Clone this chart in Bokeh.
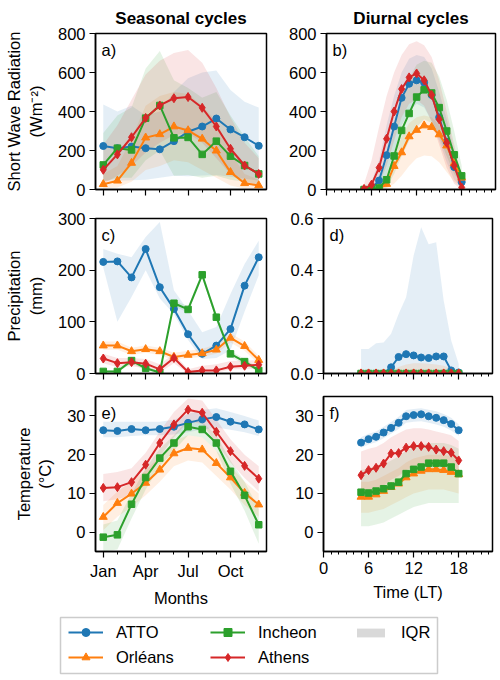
from bokeh.plotting import figure
from bokeh.layouts import column, row
from bokeh.models import Range1d, FixedTicker, Label, Legend, LegendItem, PrintfTickFormatter
from bokeh.embed import file_html
from bokeh.resources import INLINE

FONT = "Liberation Sans"
FS = "16.5px"

# ---------------- data ----------------
sites = ["ATTO", "Orléans", "Incheon", "Athens"]
colors = ["#1f77b4", "#ff7f0e", "#2ca02c", "#d62728"]
markers = ["circle", "triangle", "square", "diamond"]
marker_sizes = [7, 8, 6.5, 9]

months = [1, 2, 3, 4, 5, 6, 7, 8, 9, 10, 11, 12]
month_ticks = [1, 4, 7, 10]
month_labels = ["Jan", "Apr", "Jul", "Oct"]
hours = [5, 6, 7, 8, 9, 10, 11, 12, 13, 14, 15, 16, 17, 18]
hour_ticks = [0, 6, 12, 18]
hour_minor = list(range(0, 23))

# Short wave radiation, seasonal (median, q1, q3)
sw_s_atto = [223, 212, 220, 212, 206, 248, 296, 323, 364, 308, 268, 224]
sw_s_atto_q1 = [46, 45, 48, 50, 60, 70, 68, 72, 75, 65, 55, 46]
sw_s_atto_q3 = [436, 400, 430, 380, 400, 500, 570, 600, 610, 510, 450, 420]
sw_s_orl = [27, 45, 136, 266, 283, 323, 303, 260, 199, 89, 32, 21]
sw_s_orl_q1 = [5, 10, 40, 100, 120, 150, 140, 100, 60, 20, 5, 3]
sw_s_orl_q3 = [80, 120, 260, 430, 480, 500, 490, 430, 350, 190, 80, 50]
sw_s_inch = [126, 212, 203, 366, 431, 265, 267, 180, 248, 171, 123, 80]
sw_s_inch_q1 = [40, 60, 60, 150, 200, 70, 75, 60, 70, 50, 40, 25]
sw_s_inch_q3 = [290, 380, 420, 620, 710, 560, 520, 470, 500, 380, 270, 170]
sw_s_ath = [101, 180, 268, 367, 431, 468, 474, 419, 323, 209, 123, 80]
sw_s_ath_q1 = [30, 70, 120, 190, 240, 280, 290, 240, 160, 80, 30, 15]
sw_s_ath_q3 = [230, 330, 460, 590, 660, 700, 715, 650, 520, 370, 240, 160]

# Short wave radiation, diurnal
sw_d_atto = [0, 5, 46, 176, 323, 470, 542, 560, 548, 485, 370, 245, 115, 38]
sw_d_atto_q1 = [0, 0, 10, 80, 190, 330, 400, 440, 420, 350, 250, 140, 50, 15]
sw_d_atto_q3 = [0, 40, 150, 330, 480, 600, 670, 690, 680, 620, 500, 360, 200, 60]
sw_d_orl = [0, 0, 3, 28, 120, 190, 272, 305, 328, 320, 282, 225, 135, 60]
sw_d_orl_q1 = [0, 0, 0, 5, 30, 70, 120, 160, 175, 170, 140, 90, 40, 10]
sw_d_orl_q3 = [0, 0, 10, 80, 180, 270, 340, 370, 380, 370, 330, 270, 170, 80]
sw_d_inch = [0, 0, 8, 50, 172, 303, 390, 474, 511, 495, 420, 300, 178, 70]
sw_d_inch_q1 = [0, 0, 0, 10, 80, 170, 250, 320, 360, 340, 270, 170, 80, 30]
sw_d_inch_q3 = [0, 5, 40, 150, 300, 450, 570, 640, 660, 650, 580, 460, 300, 120]
sw_d_ath = [3, 25, 112, 260, 400, 515, 575, 595, 560, 485, 360, 240, 123, 10]
sw_d_ath_q1 = [0, 5, 30, 120, 250, 370, 440, 460, 430, 350, 230, 110, 30, 0]
sw_d_ath_q3 = [30, 150, 320, 480, 600, 690, 745, 760, 740, 680, 560, 400, 230, 60]

# Precipitation, seasonal
pr_s_atto = [216, 217, 186, 241, 167, 125, 76, 38, 54, 86, 170, 225]
pr_s_atto_q1 = [205, 100, 148, 200, 145, 115, 65, 28, 30, 45, 120, 190]
pr_s_atto_q3 = [241, 232, 225, 264, 293, 161, 122, 80, 90, 154, 212, 257]
pr_s_orl = [54, 54, 43, 47, 43, 32, 36, 39, 46, 69, 53, 26]
pr_s_orl_q1 = [46, 46, 36, 40, 36, 26, 30, 32, 38, 60, 44, 18]
pr_s_orl_q3 = [62, 62, 50, 54, 50, 40, 44, 48, 56, 78, 62, 34]
pr_s_inch = [4, 4, 25, 10, 2, 136, 124, 191, 109, 38, 23, 6]
pr_s_inch_q1 = [2, 2, 20, 6, 0, 130, 118, 185, 103, 32, 18, 3]
pr_s_inch_q3 = [7, 7, 30, 14, 5, 142, 130, 197, 115, 44, 28, 10]
pr_s_ath = [29, 20, 22, 19, 8, 30, 3, 6, 6, 13, 15, 17]
pr_s_ath_q1 = [20, 12, 14, 10, 2, 20, 0, 1, 1, 8, 8, 10]
pr_s_ath_q3 = [38, 30, 30, 28, 18, 38, 8, 15, 18, 24, 25, 26]

# Precipitation, diurnal
pr_d_atto = [0, 0, 0, 0, 0.024, 0.064, 0.075, 0.07, 0.062, 0.06, 0.066, 0.066, 0.012, 0.004]
pr_d_atto_q1 = [0, 0, 0, 0, 0, 0, 0, 0, 0, 0, 0, 0, 0, 0]
pr_d_atto_q3 = [0.095, 0.095, 0.117, 0.12, 0.154, 0.23, 0.295, 0.457, 0.566, 0.5, 0.508, 0.283, 0.128, 0.037]
pr_d_orl = [0, 0, 0, 0, 0, 0, 0, 0, 0, 0, 0, 0, 0, 0]
pr_d_orl_q1 = [0, 0, 0, 0, 0, 0, 0, 0, 0, 0, 0, 0, 0, 0]
pr_d_orl_q3 = [0, 0, 0, 0, 0.01, 0.025, 0.035, 0.04, 0.04, 0.038, 0.035, 0.03, 0.02, 0.01]
pr_d_inch = [0, 0, 0, 0, 0, 0, 0, 0, 0, 0, 0, 0, 0, 0]
pr_d_inch_q1 = [0, 0, 0, 0, 0, 0, 0, 0, 0, 0, 0, 0, 0, 0]
pr_d_inch_q3 = [0, 0, 0, 0, 0, 0.005, 0.01, 0.01, 0.012, 0.01, 0.008, 0.005, 0.002, 0]
pr_d_ath = [0, 0, 0, 0, 0, 0, 0, 0, 0, 0, 0, 0, 0, 0]
pr_d_ath_q1 = [0, 0, 0, 0, 0, 0, 0, 0, 0, 0, 0, 0, 0, 0]
pr_d_ath_q3 = [0, 0, 0, 0, 0, 0.005, 0.01, 0.015, 0.015, 0.01, 0.01, 0.008, 0.005, 0]

# Temperature, seasonal
t_s_atto = [26.3, 26.1, 26.6, 26.3, 26.6, 27.2, 28.2, 29.1, 29.7, 28.5, 27.8, 26.5]
t_s_atto_q1 = [24.5, 24.5, 24.8, 25.0, 25.0, 25.2, 25.8, 26.5, 27.0, 26.4, 25.8, 24.8]
t_s_atto_q3 = [28.5, 28.5, 28.5, 28.5, 28.5, 29.0, 30.5, 31.5, 32.0, 31.0, 30.0, 28.8]
t_s_orl = [3.9, 7.5, 9.9, 12.7, 16.1, 20.3, 21.7, 21.3, 17.8, 14.1, 10.1, 7.1]
t_s_orl_q1 = [0.5, 4.0, 6.5, 9.5, 13.0, 17.0, 18.5, 18.0, 14.5, 11.0, 7.0, 4.0]
t_s_orl_q3 = [7.0, 10.5, 13.0, 16.0, 19.5, 23.5, 25.0, 24.5, 21.0, 17.0, 13.0, 10.0]
t_s_inch = [-1.3, -0.7, 7.2, 14.1, 19.1, 23.0, 27.2, 26.5, 23.0, 15.7, 9.5, 1.9]
t_s_inch_q1 = [-5.0, -4.5, 3.5, 11.0, 17.0, 21.0, 25.0, 24.5, 21.0, 12.5, 5.5, -3.0]
t_s_inch_q3 = [2.0, 3.0, 10.0, 16.5, 21.5, 25.0, 29.0, 28.5, 25.0, 18.5, 13.0, 6.0]
t_s_ath = [11.4, 11.6, 12.9, 17.4, 23.0, 27.8, 31.6, 30.8, 25.9, 20.9, 17.1, 13.8]
t_s_ath_q1 = [8.0, 8.5, 9.5, 14.0, 19.5, 24.5, 28.5, 28.0, 23.0, 18.0, 14.0, 10.5]
t_s_ath_q3 = [15.0, 15.5, 16.5, 20.5, 26.0, 31.0, 34.5, 34.0, 29.0, 24.0, 20.0, 17.0]

# Temperature, diurnal
t_d_atto = [23.1, 24.0, 24.6, 25.7, 26.9, 28.2, 29.9, 30.2, 30.4, 29.9, 29.5, 28.9, 27.9, 26.3]
t_d_atto_q1 = [21.8, 22.6, 23.2, 24.2, 25.4, 26.6, 28.2, 28.5, 28.6, 28.2, 27.8, 27.2, 26.2, 24.8]
t_d_atto_q3 = [24.5, 25.4, 26.0, 27.2, 28.4, 29.8, 31.5, 31.8, 32.0, 31.6, 31.2, 30.5, 29.5, 27.8]
t_d_orl = [9.1, 9.1, 9.7, 10.6, 11.6, 12.5, 14.1, 15.1, 15.8, 16.2, 16.2, 16.0, 15.5, 14.9]
t_d_orl_q1 = [5.0, 5.0, 5.5, 6.0, 7.0, 8.0, 9.0, 10.0, 10.5, 11.0, 11.0, 11.0, 10.5, 10.0]
t_d_orl_q3 = [13.0, 13.0, 13.5, 14.5, 15.5, 16.5, 18.0, 19.0, 19.5, 20.0, 20.0, 20.0, 19.5, 19.0]
t_d_inch = [10.3, 10.1, 10.6, 11.2, 11.9, 12.9, 15.1, 16.2, 16.8, 17.8, 17.8, 17.8, 16.8, 15.1]
t_d_inch_q1 = [1.5, 1.5, 2.0, 2.5, 3.5, 4.5, 5.5, 6.5, 7.0, 7.5, 7.5, 7.5, 7.5, 7.5]
t_d_inch_q3 = [16.0, 16.5, 17.0, 17.5, 18.5, 19.5, 21.0, 22.0, 22.5, 23.0, 23.0, 23.0, 22.5, 21.5]
t_d_ath = [14.7, 16.0, 16.6, 17.7, 20.3, 20.4, 21.8, 22.2, 22.2, 22.0, 21.3, 20.9, 20.5, 18.5]
t_d_ath_q1 = [9.0, 10.0, 11.0, 12.0, 13.5, 14.5, 16.0, 17.0, 17.5, 17.5, 17.0, 16.5, 16.0, 14.0]
t_d_ath_q3 = [20.8, 21.5, 22.0, 23.0, 24.5, 25.5, 26.5, 26.8, 26.8, 26.5, 26.0, 25.5, 25.0, 23.5]

# ---------------- helpers ----------------
def style_fig(p):
    p.grid.visible = False
    p.outline_line_color = "black"
    p.outline_line_width = 1.5
    p.background_fill_color = "white"
    p.border_fill_color = "white"
    for ax in p.axis:
        ax.axis_line_color = "black"
        ax.axis_line_width = 1.5
        ax.major_tick_line_color = "black"
        ax.major_tick_line_width = 1.2
        ax.minor_tick_line_color = "black"
        ax.minor_tick_line_width = 1.0
        ax.major_tick_in = 0
        ax.major_tick_out = 6
        ax.minor_tick_in = 0
        ax.minor_tick_out = 3
        ax.major_label_text_font = FONT
        ax.major_label_text_font_size = FS
        ax.major_label_text_color = "black"
        ax.major_label_standoff = 4
        ax.axis_label_text_font = FONT
        ax.axis_label_text_font_size = FS
        ax.axis_label_text_font_style = "normal"
        ax.axis_label_text_color = "black"
    p.yaxis.minor_tick_line_color = None


def make_panel(x, series, xr, yr, yticks, xticks, xminor, letter, left, right, top, bottom,
               fh, show_xlabels, xlabel=None, ylabel=None, title=None, xoverrides=None, yfmt=None):
    fw = 171 if left > 60 else 169
    p = figure(frame_width=fw, frame_height=fh, min_border_left=left, min_border_right=right,
               min_border_top=top, min_border_bottom=bottom, x_range=xr, y_range=yr,
               output_backend="svg", toolbar_location=None, tools="")
    style_fig(p)
    p.xaxis.ticker = FixedTicker(ticks=xticks, minor_ticks=xminor)
    p.yaxis.ticker = FixedTicker(ticks=yticks)
    if yfmt:
        p.yaxis.formatter = PrintfTickFormatter(format=yfmt)
    if xoverrides:
        p.xaxis.major_label_overrides = xoverrides
    if not show_xlabels:
        p.xaxis.major_label_text_color = None
        p.xaxis.major_label_standoff = 0
    if xlabel:
        p.xaxis.axis_label = xlabel
        p.xaxis.axis_label_standoff = 6
    if ylabel:
        p.yaxis.axis_label = ylabel
        p.yaxis.axis_label_standoff = 10
    if title:
        p.title.text = title
        p.title.align = "center"
        p.title.text_font = FONT
        p.title.text_font_size = "17px"
        p.title.text_font_style = "bold"
        p.title.text_color = "black"
        p.title.standoff = 12
    for (med, q1, q3), c in zip(series, colors):
        p.varea(x=x, y1=q1, y2=q3, fill_color=c, fill_alpha=0.12)
    for (med, q1, q3), c, m, s in zip(series, colors, markers, marker_sizes):
        p.line(x=x, y=med, line_color=c, line_width=2)
        p.scatter(x=x, y=med, marker=m, size=s, fill_color=c, line_color=c)
    lab = Label(x=xr.start, y=yr.end, x_offset=6, y_offset=-7, text=letter + ")",
                text_baseline="top", text_align="left", text_font=FONT,
                text_font_size=FS, text_color="black")
    p.add_layout(lab)
    return p


month_over = {t: l for t, l in zip(month_ticks, month_labels)}

def mr():
    return Range1d(0.45, 12.55)

def hr():
    return Range1d(0, 22.5)

LEFT_L, RIGHT_L = 95, 19
LEFT_R, RIGHT_R = 38, 8

pa = make_panel(months, [(sw_s_atto, sw_s_atto_q1, sw_s_atto_q3), (sw_s_orl, sw_s_orl_q1, sw_s_orl_q3),
                         (sw_s_inch, sw_s_inch_q1, sw_s_inch_q3), (sw_s_ath, sw_s_ath_q1, sw_s_ath_q3)],
                mr(), Range1d(0, 800), [0, 200, 400, 600, 800], month_ticks, months, "a",
                LEFT_L, RIGHT_L, 33, 10, 156, False,
                ylabel="Short Wave Radiation\n(Wm⁻²)", title="Seasonal cycles", xoverrides=month_over)
pb = make_panel(hours, [(sw_d_atto, sw_d_atto_q1, sw_d_atto_q3), (sw_d_orl, sw_d_orl_q1, sw_d_orl_q3),
                        (sw_d_inch, sw_d_inch_q1, sw_d_inch_q3), (sw_d_ath, sw_d_ath_q1, sw_d_ath_q3)],
                hr(), Range1d(0, 800), [0, 200, 400, 600, 800], hour_ticks, hour_minor, "b",
                LEFT_R, RIGHT_R, 33, 10, 156, False, title="Diurnal cycles")
pc = make_panel(months, [(pr_s_atto, pr_s_atto_q1, pr_s_atto_q3), (pr_s_orl, pr_s_orl_q1, pr_s_orl_q3),
                         (pr_s_inch, pr_s_inch_q1, pr_s_inch_q3), (pr_s_ath, pr_s_ath_q1, pr_s_ath_q3)],
                mr(), Range1d(0, 300), [0, 100, 200, 300], month_ticks, months, "c",
                LEFT_L, RIGHT_L, 19, 10, 155, False,
                ylabel="Precipitation\n(mm)", xoverrides=month_over)
pd_ = make_panel(hours, [(pr_d_atto, pr_d_atto_q1, pr_d_atto_q3), (pr_d_orl, pr_d_orl_q1, pr_d_orl_q3),
                         (pr_d_inch, pr_d_inch_q1, pr_d_inch_q3), (pr_d_ath, pr_d_ath_q1, pr_d_ath_q3)],
                 hr(), Range1d(0, 0.6), [0, 0.2, 0.4, 0.6], hour_ticks, hour_minor, "d",
                 LEFT_R, RIGHT_R, 19, 10, 155, False, yfmt="%.1f")
pe = make_panel(months, [(t_s_atto, t_s_atto_q1, t_s_atto_q3), (t_s_orl, t_s_orl_q1, t_s_orl_q3),
                         (t_s_inch, t_s_inch_q1, t_s_inch_q3), (t_s_ath, t_s_ath_q1, t_s_ath_q3)],
                mr(), Range1d(-5, 35), [0, 10, 20, 30], month_ticks, months, "e",
                LEFT_L, RIGHT_L, 13, 59, 155, True, xlabel="Months",
                ylabel="Temperature\n(°C)", xoverrides=month_over)
pf = make_panel(hours, [(t_d_atto, t_d_atto_q1, t_d_atto_q3), (t_d_orl, t_d_orl_q1, t_d_orl_q3),
                        (t_d_inch, t_d_inch_q1, t_d_inch_q3), (t_d_ath, t_d_ath_q1, t_d_ath_q3)],
                hr(), Range1d(-5, 35), [0, 10, 20, 30], hour_ticks, hour_minor, "f",
                LEFT_R, RIGHT_R, 13, 59, 155, True, xlabel="Time (LT)")

# ---------------- legend figure ----------------
pl = figure(frame_width=377, frame_height=56, min_border_left=60, min_border_right=63,
            min_border_top=7, min_border_bottom=7, x_range=Range1d(-2, -1), y_range=Range1d(-2, -1),
            x_axis_type=None, y_axis_type=None, output_backend="svg", toolbar_location=None, tools="")
pl.grid.visible = False
pl.outline_line_color = "#cccccc"
pl.outline_line_width = 1.5
pl.background_fill_color = "white"
pl.border_fill_color = "white"

items = []
for name, c, m, s, med in zip(sites, colors, markers, marker_sizes,
                              [t_s_atto, t_s_orl, t_s_inch, t_s_ath]):
    lr = pl.line(x=months, y=med, line_color=c, line_width=2)
    sr = pl.scatter(x=months, y=med, marker=m, size=s, fill_color=c, line_color=c)
    items.append(LegendItem(label=name, renderers=[lr, sr]))
iqr_r = pl.varea(x=months, y1=t_s_atto_q1, y2=t_s_atto_q3, fill_color="gray", fill_alpha=0.3)


def mk_legend(its, loc, gh=20, lh=20):
    lg = Legend(items=its, location=loc, orientation="vertical", padding=0, margin=0, spacing=5,
                glyph_width=35, glyph_height=gh, label_height=lh, label_standoff=13,
                border_line_color=None, background_fill_alpha=0,
                label_text_font=FONT, label_text_font_size=FS, label_text_color="black")
    pl.add_layout(lg)
    return lg

mk_legend([items[0], items[1]], (8, 6))
mk_legend([items[2], items[3]], (150, 6))
mk_legend([LegendItem(label="IQR", renderers=[iqr_r])], (293, 31), gh=11, lh=11)

layout = column(row(pa, pb), row(pc, pd_), row(pe, pf), pl)

open("out.html", "w").write(file_html(layout, INLINE))
